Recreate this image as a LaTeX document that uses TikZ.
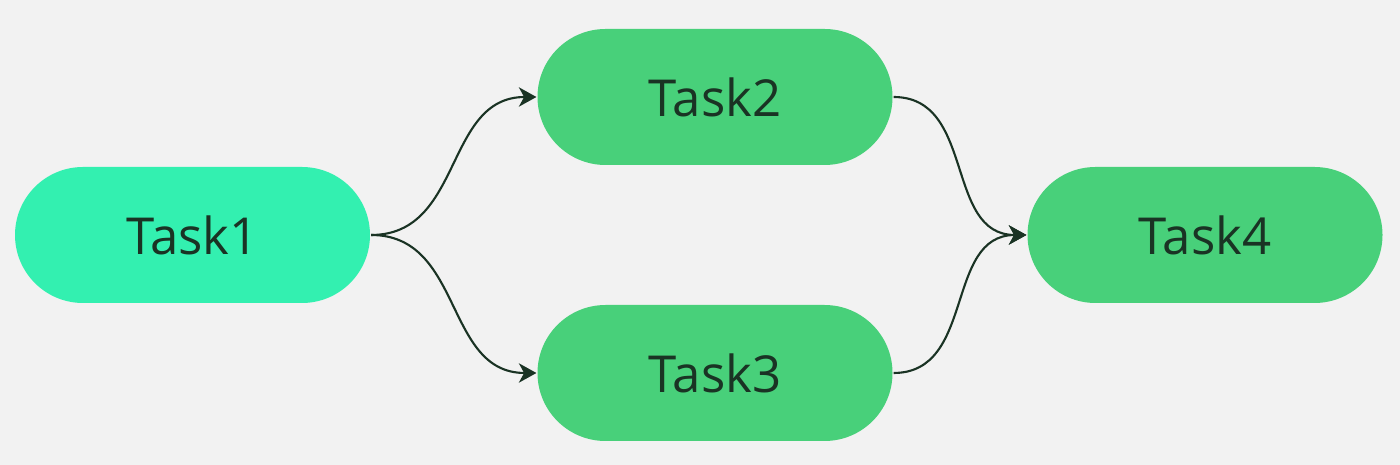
\documentclass[tikz,border=0pt]{standalone}
\usepackage{fontspec}
\setmainfont{Open Sans}
\usepackage{xcolor}
\usetikzlibrary{arrows.meta}

\definecolor{bgcol}{HTML}{F2F2F2}
\definecolor{firstcol}{HTML}{33F0B0}
\definecolor{taskcol}{HTML}{48D07A}
\definecolor{inkcol}{HTML}{1A3324}

\begin{document}
\begin{tikzpicture}[line width=1.2pt]

\fill[bgcol] (0,0) rectangle (28,9.3);

% tasks
\tikzset{task/.style={rectangle,fill=taskcol,text=inkcol,minimum width=7.1cm,minimum height=2.72cm,rounded corners=1.36cm,font=\fontsize{29}{34}\selectfont}}

\node[task,fill=firstcol] (T1) at (3.85,4.6) {Task1};
\node[task] (T2) at (14.3,7.36) {Task2};
\node[task] (T3) at (14.3,1.84) {Task3};
\node[task] (T4) at (24.1,4.6) {Task4};

% links
\tikzset{link/.style={-{Stealth[length=10pt,width=11pt,inset=3pt]},draw=inkcol}}

\draw[link] (T1.east) to[out=0,in=180,looseness=1.1] (T2.west);
\draw[link] (T1.east) to[out=0,in=180,looseness=1.1] (T3.west);
\draw[link] (T2.east) to[out=0,in=180,looseness=1.1] (T4.west);
\draw[link] (T3.east) to[out=0,in=180,looseness=1.1] (T4.west);

\end{tikzpicture}
\end{document}
